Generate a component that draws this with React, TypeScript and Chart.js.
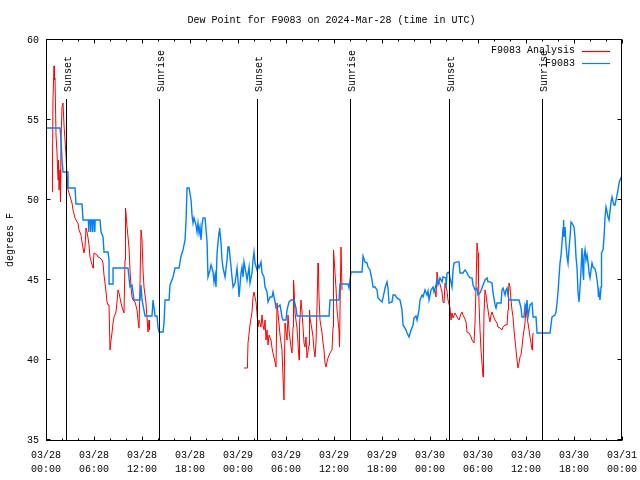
import React, { useEffect, useRef } from 'react';
import { Chart, registerables } from 'chart.js';

Chart.register(...registerables);

const chartTitle = 'Dew Point for F9083 on 2024-Mar-28 (time in UTC)';
const yAxisTitle = 'degrees F';
const xTickHours = [0, 6, 12, 18, 24, 30, 36, 42, 48, 54, 60, 66, 72];
const xTickDates = ['03/28', '03/28', '03/28', '03/28', '03/29', '03/29', '03/29', '03/29', '03/30', '03/30', '03/30', '03/30', '03/31'];
const xTickTimes = ['00:00', '06:00', '12:00', '18:00', '00:00', '06:00', '12:00', '18:00', '00:00', '06:00', '12:00', '18:00', '00:00'];
const yTicks = [35, 40, 45, 50, 55, 60];
const eventHours = [2.5, 14.15, 26.4, 38.05, 50.4, 62.05];
const eventLabels = ['Sunset', 'Sunrise', 'Sunset', 'Sunrise', 'Sunset', 'Sunrise'];
const seriesNames = ['F9083 Analysis', 'F9083'];
const seriesColors = ['#ff0000', '#0080ff'];

// [hour since 03/28 00:00 UTC, dew point F]; null = no data
const analysisSeries: [number, number | null][] = [
  [0.75, 50.5], [0.81, 52.31], [0.875, 56.38], [1, 58.38], [1.06, 57.5], [1.125, 57.63], [1.25, 54.06], [1.375, 52.94],
  [1.5, 51.25], [1.56, 52.5], [1.625, 50.63], [1.75, 51.88], [1.81, 49.88], [1.875, 53.75], [2, 55.81], [2.125, 56.06],
  [2.25, 54.69], [2.375, 53.75], [2.5, 52.81], [2.625, 51.44], [2.69, 50.75], [2.875, 50.44], [3.25, 49.81], [3.375, 49.38],
  [3.625, 48.88], [3.875, 48.63], [4, 48.56], [4.125, 48.13], [4.375, 47.81], [4.5, 47.38], [4.625, 47], [4.75, 46.69],
  [4.875, 47.06], [5, 48.25], [5.125, 48], [5.25, 47.63], [5.375, 47.19], [5.5, 46.44], [5.75, 45.94], [5.875, 45.75],
  [5.94, 46.25], [6, 46.69], [6.375, 46.56], [6.5, 46.44], [6.75, 46.38], [7, 46.25], [7.125, 46.06], [7.25, 45.31],
  [7.375, 44.81], [7.5, 44.25], [7.625, 43.63], [7.75, 43.44], [7.875, 43.44], [8, 40.63], [8.125, 41.25], [8.25, 41.69],
  [8.375, 42.31], [8.5, 42.69], [8.75, 43], [8.875, 43.63], [9, 44.38], [9.125, 44.19], [9.25, 43.88], [9.375, 43.56],
  [9.5, 43.31], [9.75, 42.94], [9.875, 46.25], [9.94, 49.5], [10, 49.19], [10.125, 48.31], [10.25, 47.69], [10.375, 47],
  [10.5, 45.63], [10.625, 44.56], [10.75, 43.94], [10.875, 43.75], [11.125, 43.63], [11.375, 43.13], [11.5, 42.5], [11.625, 42],
  [11.75, 44.81], [11.875, 48.13], [12, 47.5], [12.125, 45.63], [12.25, 44.56], [12.5, 43.56], [12.625, 42.63], [12.75, 41.75],
  [12.875, 42.5], [12.94, 41.88],
  [18, null],
  [24.75, 39.5], [25.125, 39.5], [25.19, 39.88], [25.25, 41.06], [25.5, 42.19], [25.75, 43], [25.875, 43.94], [26, 44.25],
  [26.25, 43.63], [26.375, 42.94], [26.5, 42.06], [26.625, 42.5], [26.875, 42.06], [27, 42.81], [27.125, 42.19], [27.25, 41.88],
  [27.375, 42.5], [27.5, 41.25], [27.625, 41.88], [27.75, 40.94], [27.875, 41.56], [28.125, 41.25], [28.25, 40.75], [28.375, 40.44],
  [28.625, 39.88], [28.75, 39.56], [28.875, 43.56], [29, 42.94], [29.25, 41.56], [29.5, 40.63], [29.625, 38.94], [29.75, 37.5],
  [29.875, 42.31], [30.125, 41.25], [30.25, 42.81], [30.375, 41.88], [30.625, 40.81], [30.75, 40.44], [30.875, 42.06], [30.94, 45],
  [31, 44.56], [31.125, 42.94], [31.375, 42], [31.5, 41.06], [31.625, 40], [31.69, 42.19], [31.875, 43.75], [32, 43],
  [32.125, 42.06], [32.25, 41.06], [32.375, 40.81], [32.5, 41.44], [32.625, 40.13], [32.875, 40.94], [32.94, 43.13], [33, 42.63],
  [33.25, 41.88], [33.375, 41.44], [33.5, 40.63], [33.625, 40.19], [33.75, 41.06], [33.875, 43.31], [34, 46.06], [34.06, 45.44],
  [34.125, 43.94], [34.25, 42.5], [34.5, 41.69], [34.625, 41.06], [34.75, 40.63], [34.875, 39.81], [35, 39.56], [35.125, 39.88],
  [35.25, 40.13], [35.5, 40.44], [35.75, 40.63], [35.875, 42.06], [35.94, 46.88], [36, 46.44], [36.125, 45.44], [36.25, 44.5],
  [36.375, 43.13], [36.625, 41.88], [36.69, 40.81], [36.75, 43.13], [36.875, 47.06], [37, 44.38],
  [42, null],
  [48.625, 44.38], [48.75, 43.94], [48.875, 45.5], [49, 45], [49.25, 44.75], [49.5, 44.25], [49.625, 43.63], [49.75, 43.56],
  [49.875, 44.81], [50.125, 44.31], [50.25, 43.75], [50.5, 43.25], [50.625, 42.5], [50.75, 42.94], [50.875, 42.63], [51.125, 42.94],
  [51.375, 42.69], [51.625, 42.5], [51.875, 42.88], [52, 43], [52.125, 42.81], [52.375, 42.56], [52.5, 42.38], [52.625, 41.75],
  [52.875, 41.69], [53.125, 41.44], [53.25, 41.25], [53.5, 41.06], [53.625, 42.31], [53.75, 44.56], [53.875, 47.31], [54, 46.69],
  [54.06, 45.19], [54.125, 43.56], [54.25, 41.88], [54.375, 40.63], [54.5, 39.81], [54.625, 38.94], [54.69, 40.81], [54.75, 42.94],
  [54.875, 44.38], [55, 44.06], [55.125, 43.56], [55.25, 43.13], [55.375, 42.69], [55.5, 42.38], [55.625, 42.81], [55.75, 43],
  [55.875, 42.81], [56.125, 42.5], [56.375, 42.31], [56.5, 42.06], [56.75, 42], [57, 41.88], [57.125, 42.06], [57.375, 42.19],
  [57.625, 42.19], [57.75, 43.13], [57.81, 44.25], [57.875, 44.81], [58, 44.56], [58.125, 43.75], [58.25, 43.13], [58.375, 42.69],
  [58.5, 41.88], [58.625, 41.25], [58.75, 40.63], [58.875, 40], [59, 39.5], [59.125, 39.81], [59.25, 40.19], [59.375, 40.31],
  [59.5, 40.81], [59.625, 41.44], [59.875, 42.31], [60, 43.31], [60.125, 42.69], [60.25, 42.31], [60.375, 41.88], [60.5, 41.44],
  [60.625, 41.06], [60.75, 40.63], [60.81, 41.25], [60.875, 41.69],
];

const stationSeries: [number, number][] = [
  [0, 54.5], [1.75, 54.5], [1.88, 53.75], [2, 52.5], [2.13, 51.75], [2.75, 51.75], [2.75, 50.75], [3.63, 50.75],
  [3.75, 49.75], [4.5, 49.75], [4.63, 48.75], [5.3, 48.75], [5.35, 48], [5.4, 48.75], [5.55, 48.75], [5.6, 48],
  [5.65, 48.75], [5.8, 48.75], [5.85, 48], [5.9, 48.75], [6.05, 48.75], [6.1, 48], [6.15, 48.75], [6.75, 48.75],
  [6.88, 48], [7.13, 47.7], [7.25, 46.75],
  [7.75, 46.75], [7.88, 46.25], [7.88, 44.75], [8.38, 44.75], [8.38, 45.75], [10.25, 45.75], [10.5, 44.56], [10.75, 44.69],
  [11, 43.75], [11.75, 43.75], [11.88, 44.69], [12, 43.75], [12.38, 42.75], [13.25, 42.75], [13.38, 43.75], [13.63, 42.75],
  [13.88, 42.75], [14, 42.06], [14.13, 41.75], [14.63, 41.75], [14.75, 42.31], [14.88, 43.75], [15.38, 43.75], [15.5, 44.69],
  [15.88, 45.19], [16.13, 45.75], [16.63, 45.75], [16.88, 46.5], [17.13, 46.88], [17.38, 47.5], [17.5, 48.63], [17.63, 50.75],
  [17.88, 50.75], [18.13, 50], [18.25, 49.06], [18.38, 48.56], [18.5, 48.88], [18.75, 48.44], [18.88, 48], [19, 48.56],
  [19.13, 47.94], [19.25, 48.31], [19.38, 47.5], [19.5, 48.44], [19.63, 48.88], [19.88, 48.88], [20.13, 47.38], [20.25, 45.19],
  [20.5, 45.63], [20.63, 45.94], [20.88, 45.5], [21, 44.88], [21.13, 45.31], [21.25, 44.56], [21.38, 46.69], [21.63, 48],
  [21.7, 48.25], [21.88, 47.31], [22, 46.25], [22.13, 45.75], [22.38, 45.19], [22.63, 46.25], [22.75, 47.06], [22.88, 47.06],
  [23.13, 45.81], [23.25, 45.19], [23.38, 44.56], [23.63, 44.81], [23.88, 45.75], [24, 45], [24.13, 43.94], [24.38, 45.44],
  [24.5, 45.81], [24.63, 45.19], [24.75, 46.13], [25, 45.44], [25.13, 45], [25.38, 45.81], [25.5, 44.81], [25.75, 45.44],
  [25.88, 46.25], [26, 46.75], [26.13, 46.06], [26.38, 45.63], [26.5, 45.94], [26.63, 45.75], [26.88, 46.13], [27, 45.44],
  [27.25, 45.19], [27.38, 44.56], [27.63, 44.25], [27.75, 43.63], [28, 43.94], [28.25, 43.94], [28.38, 44.25], [28.63, 43.63],
  [28.75, 43.25], [29, 43.31], [29.25, 43.44], [29.5, 42.69], [29.63, 42.5], [30, 42.5], [30.13, 43.13], [30.38, 43.63],
  [30.63, 43.75], [31, 43.75], [31.25, 43.25], [31.38, 42.75], [35.38, 42.75], [35.5, 43.75], [36.63, 43.75], [36.75, 44.75],
  [37.75, 44.75], [37.88, 44.5], [38.13, 45.5], [39.5, 45.5], [39.63, 46.5], [39.88, 46.13], [40.13, 46.06], [40.25, 45.81],
  [40.5, 45.63], [40.75, 45], [40.88, 44.56], [41.13, 44.56], [41.38, 44.38], [41.5, 43.88], [41.75, 43.75], [42, 43.63],
  [42.13, 43.88], [42.38, 44.5], [42.63, 44.88], [42.75, 44.5], [42.88, 43.56], [43.25, 43.63], [43.38, 44.06], [43.63, 44.06],
  [43.88, 43.88], [44.25, 43.75], [44.5, 43.13], [44.63, 42.19], [45, 41.88], [45.13, 41.69], [45.38, 41.44], [45.63, 41.88],
  [45.88, 42.19], [46, 42.63], [46.25, 42.75], [46.38, 42.5], [46.63, 43.13], [46.75, 43.75], [47, 44.06], [47.13, 43.94],
  [47.38, 44.38], [47.63, 44.06], [47.75, 44.31], [47.88, 43.75], [48.13, 44.38], [48.38, 44.56], [48.5, 44.25], [48.75, 44.69],
  [48.88, 45], [49, 44.69], [49.25, 45.13], [49.5, 44.88], [49.63, 45.19], [50, 45.13], [50, 44.5], [50.13, 45.44],
  [50.38, 45.5], [50.5, 45.13], [50.75, 44.56], [50.88, 45.63], [51, 46.06], [51.38, 46.13], [51.63, 46.13], [51.75, 45.44],
  [52.13, 45.44], [52.38, 45.63], [52.63, 45.44], [52.75, 45.31], [53, 45.13], [53.25, 45.13], [53.38, 44.69], [53.63, 44.38],
  [53.88, 44.5], [54, 44.06], [54.25, 44.19], [54.5, 44.5], [54.63, 44.69], [54.88, 45], [55.13, 45.13], [55.25, 44.88],
  [55.5, 44.88], [55.75, 44.81], [55.88, 44.19], [56.13, 43.44], [56.25, 43.25], [56.38, 43.56], [56.88, 43.56], [57, 44.38],
  [57.13, 44.5], [57.38, 44.06], [57.5, 44.38], [57.63, 44.5], [57.75, 44.06], [57.88, 43.75], [59.13, 43.75], [59.38, 43.25],
  [59.5, 42.69], [59.75, 42.69], [59.88, 43.44], [60, 43.25], [60.13, 43.75], [60.25, 42.69], [60.5, 43.44], [60.75, 43.56],
  [60.88, 42.69], [61.25, 42.69], [61.38, 41.69], [63, 41.69], [63.25, 42.69], [63.63, 42.81], [63.75, 43], [63.88, 43.56],
  [64, 44.25], [64.13, 45.19], [64.25, 46.06], [64.38, 46.56], [64.5, 47.31], [64.63, 48.25], [64.7, 48.75], [64.75, 47.69],
  [64.88, 48.31], [65, 47.19], [65.13, 46.44], [65.25, 46.06], [65.38, 47], [65.5, 47.63], [65.63, 48.63], [65.75, 48.56],
  [66, 48.31], [66.13, 47.63], [66.25, 46.44], [66.38, 45.75], [66.5, 44.25], [66.63, 43.63], [66.75, 44.5], [66.88, 45.63],
  [67, 47], [67.13, 45.44], [67.2, 45], [67.25, 46.44], [67.38, 46.88], [67.5, 46.25], [67.63, 46.56], [67.75, 46.13],
  [67.88, 45.44], [68, 45.13], [68.13, 45.63], [68.25, 46.06], [68.38, 45.81], [68.63, 45.69], [68.75, 45.44], [68.88, 45],
  [69, 44.5], [69.06, 43.94], [69.13, 44.25], [69.25, 43.75], [69.38, 44.56], [69.44, 46.69], [69.63, 46.88], [69.75, 47.63],
  [69.88, 48.94], [70, 49.56], [70.13, 49.25], [70.25, 48.94], [70.38, 48.75], [70.63, 49.88], [70.75, 50.19], [70.88, 49.88],
  [71, 49.69], [71.13, 49.69], [71.38, 50.31], [71.5, 50.63], [71.63, 51.06], [71.75, 51.25], [71.88, 51.38], [72, 51.5],
];

const FAMILY = '"Liberation Mono", "DejaVu Sans Mono", monospace';
const FONT = '10px ' + FAMILY;

const framePlugin = {
  id: 'gnuframe',
  afterDatasetsDraw(chart: any) {
    const { ctx, chartArea: a, scales } = chart;
    const x = scales.x;
    const y = scales.y;
    ctx.save();
    ctx.strokeStyle = '#000';
    ctx.fillStyle = '#000';
    ctx.lineWidth = 1;
    ctx.font = FONT;

    // Sunrise / sunset markers
    eventHours.forEach((h, i) => {
      const px = Math.round(x.getPixelForValue(h)) + 0.5;
      ctx.strokeStyle = '#000';
      ctx.beginPath();
      ctx.moveTo(px, a.top + 59);
      ctx.lineTo(px, a.bottom);
      ctx.stroke();
      ctx.save();
      ctx.translate(px + 1.5, a.top + 52);
      ctx.rotate(-Math.PI / 2);
      ctx.textAlign = 'left';
      ctx.textBaseline = 'middle';
      ctx.fillText(eventLabels[i], 0, 0);
      ctx.restore();
    });

    // border
    const L = a.left + 0.5, R = a.right - 0.5, T = a.top - 0.5, B = a.bottom + 0.5;
    ctx.strokeStyle = '#000';
    ctx.strokeRect(L, T, R - L, B - T);

    // x ticks (major every 6h, minor every 2h), mirrored top
    for (let h = 0; h <= 72; h += 2) {
      const px = Math.round(x.getPixelForValue(h)) + 0.5;
      const len = h % 6 === 0 ? 4 : 2;
      ctx.beginPath();
      ctx.moveTo(px, B); ctx.lineTo(px, B - len);
      ctx.moveTo(px, T); ctx.lineTo(px, T + len);
      ctx.stroke();
    }
    // y ticks, mirrored right
    yTicks.forEach((v) => {
      const py = Math.round(y.getPixelForValue(v)) - 0.5;
      ctx.beginPath();
      ctx.moveTo(L, py); ctx.lineTo(L + 4, py);
      ctx.moveTo(R, py); ctx.lineTo(R - 4, py);
      ctx.stroke();
    });

    // title
    ctx.fillStyle = '#000';
    ctx.textAlign = 'center';
    ctx.textBaseline = 'middle';
    ctx.fillText(chartTitle, 331.5, 20);

    // y axis title
    ctx.save();
    ctx.translate(10, (a.top + a.bottom) / 2);
    ctx.rotate(-Math.PI / 2);
    ctx.fillText(yAxisTitle, 0, 0);
    ctx.restore();

    // legend
    seriesNames.forEach((name, i) => {
      const ly = a.top + 10.5 + i * 12.5;
      ctx.fillStyle = '#000';
      ctx.textAlign = 'right';
      ctx.textBaseline = 'middle';
      ctx.fillText(name, a.right - 47, ly);
      ctx.save();
      ctx.strokeStyle = seriesColors[i];
      ctx.lineWidth = 1.2;
      ctx.beginPath();
      ctx.moveTo(a.right - 40, Math.round(ly) + 0.5);
      ctx.lineTo(a.right - 12, Math.round(ly) + 0.5);
      ctx.stroke();
      ctx.restore();
    });
    ctx.restore();
  },
};

export default function App() {
  const ref = useRef<HTMLCanvasElement | null>(null);

  useEffect(() => {
    if (!ref.current) return;
    const chart = new Chart(ref.current, {
      type: 'line',
      data: {
        datasets: [
          {
            label: seriesNames[0],
            data: analysisSeries.map(([h, v]) => ({ x: h, y: v })),
            borderColor: seriesColors[0],
            borderWidth: 1,
            pointRadius: 0,
            spanGaps: false,
            tension: 0,
            order: 2,
          },
          {
            label: seriesNames[1],
            data: stationSeries.map(([h, v]) => ({ x: h, y: v })),
            borderColor: seriesColors[1],
            borderWidth: 1.4,
            pointRadius: 0,
            tension: 0,
            order: 1,
          },
        ],
      } as any,
      options: {
        responsive: false,
        animation: false,
        devicePixelRatio: 1,
        layout: { padding: { top: 40, right: 18, left: 0, bottom: 0 } },
        plugins: {
          legend: { display: false },
          title: { display: false },
          tooltip: { enabled: false },
        },
        scales: {
          x: {
            type: 'linear',
            min: 0,
            max: 72,
            grid: { display: false, drawTicks: false },
            border: { display: false },
            afterBuildTicks: (s: any) => {
              s.ticks = xTickHours.map((v) => ({ value: v }));
            },
            afterFit: (s: any) => {
              s.height = 40;
              s.paddingLeft = 0;
              s.paddingRight = 0;
            },
            ticks: {
              autoSkip: false,
              maxRotation: 0,
              minRotation: 0,
              padding: 8,
              color: '#000',
              font: { family: FAMILY, size: 10, lineHeight: 1.4 },
              callback: (v: any) => {
                const i = xTickHours.indexOf(Number(v));
                return i < 0 ? '' : [xTickDates[i], xTickTimes[i]];
              },
            },
          },
          y: {
            type: 'linear',
            min: 35,
            max: 60,
            grid: { display: false, drawTicks: false },
            border: { display: false },
            afterBuildTicks: (s: any) => {
              s.ticks = yTicks.map((v) => ({ value: v }));
            },
            afterFit: (s: any) => {
              s.width = 46;
              s.paddingTop = 0;
              s.paddingBottom = 0;
            },
            ticks: {
              padding: 7,
              color: '#000',
              font: { family: FAMILY, size: 10 },
            },
          },
        },
      } as any,
      plugins: [framePlugin],
    });
    return () => chart.destroy();
  }, []);

  return (
    <div style={{ position: 'absolute', left: 0, top: 0, width: 640, height: 480, background: '#fff' }}>
      <canvas ref={ref} width={640} height={480} style={{ display: 'block', width: 640, height: 480 }} />
    </div>
  );
}
